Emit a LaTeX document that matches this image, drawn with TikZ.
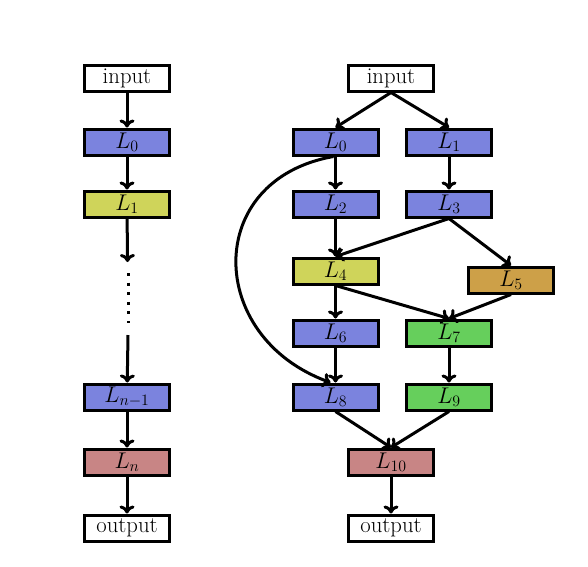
\RequirePackage{fix-cm}
\documentclass[tikz,border=0pt]{standalone}
\usepackage{fontspec}
\usetikzlibrary{arrows.meta}
\definecolor{cblue}{RGB}{123,131,222}
\definecolor{cyel}{RGB}{207,212,90}
\definecolor{corg}{RGB}{205,160,72}
\definecolor{cgrn}{RGB}{102,207,92}
\definecolor{cred}{RGB}{200,133,133}
\begin{document}
\begin{tikzpicture}[x=1pt,y=-1pt,
  lay/.style={draw=black, line width=3pt, minimum width=85pt, minimum height=26pt, inner sep=0pt, font=\fontsize{22.7}{26}\selectfont},
  conn/.style={line width=3pt, -{To[length=8pt,width=15pt]}},
  plain/.style={line width=3pt}]
\useasboundingbox (0,0) rectangle (588,566);
% left column
\node[lay, fill=white] (ain) at (127,78) {input};
\node[lay, fill=cblue] (a0) at (127,142) {$L_0$};
\node[lay, fill=cyel] (a1) at (127,204) {$L_1$};
\coordinate (d0) at (127.5,262);
\coordinate (d1) at (128,273);
\coordinate (d2) at (128,323);
\coordinate (d3) at (128,335);
\node[lay, fill=cblue] (an1) at (127,397) {$L_{n-1}$};
\node[lay, fill=cred] (an) at (127,462) {$L_n$};
\node[lay, fill=white] (aout) at (127,528) {output};
\draw[conn] (ain) -- (a0);
\draw[conn] (a0) -- (a1);
\draw[conn] (a1) -- (d0);
\draw[line width=3pt, dash pattern=on 3pt off 6.6pt] (d1) -- (d2);
\draw[conn] (d3) -- (an1);
\draw[conn] (an1) -- (an);
\draw[conn] (an) -- (aout);
% right graph
\node[lay, fill=white] (bin) at (391,78) {input};
\node[lay, fill=cblue] (b0) at (335.5,142) {$L_0$};
\node[lay, fill=cblue] (b1) at (449,142) {$L_1$};
\node[lay, fill=cblue] (b2) at (335.5,204) {$L_2$};
\node[lay, fill=cblue] (b3) at (449,204) {$L_3$};
\node[lay, fill=cyel] (b4) at (335.5,271) {$L_4$};
\node[lay, fill=corg] (b5) at (511,280) {$L_5$};
\node[lay, fill=cblue] (b6) at (335.5,333) {$L_6$};
\node[lay, fill=cgrn] (b7) at (449,333) {$L_7$};
\node[lay, fill=cblue] (b8) at (335.5,397) {$L_8$};
\node[lay, fill=cgrn] (b9) at (449,397) {$L_9$};
\node[lay, fill=cred] (b10) at (391,462) {$L_{10}$};
\node[lay, fill=white] (bout) at (391,528) {output};
\draw[conn] (bin.south) -- (b0.north);
\draw[conn] (bin.south) -- (b1.north);
\draw[conn] (b0) -- (b2);
\draw[conn] (b1) -- (b3);
\draw[conn] (b2) -- (b4);
\draw[conn] (b3.south) -- (b4.north);
\draw[conn] (b3.south) -- (b5.north);
\draw[conn] (b4) -- (b6);
\draw[conn] (b4.south) -- (b7.north);
\draw[conn] (b5.south) -- (b7.north);
\draw[conn] (b6) -- (b8);
\draw[conn] (b7) -- (b9);
\draw[conn] (b8.south) -- (b10.north);
\draw[conn] (b9.south) -- (b10.north);
\draw[conn] (b10) -- (bout);
\draw[conn] ([xshift=-2pt]b0.south) to[out=190, in=160, looseness=1.5] ([xshift=-5pt]b8.north);
\end{tikzpicture}
\end{document}
